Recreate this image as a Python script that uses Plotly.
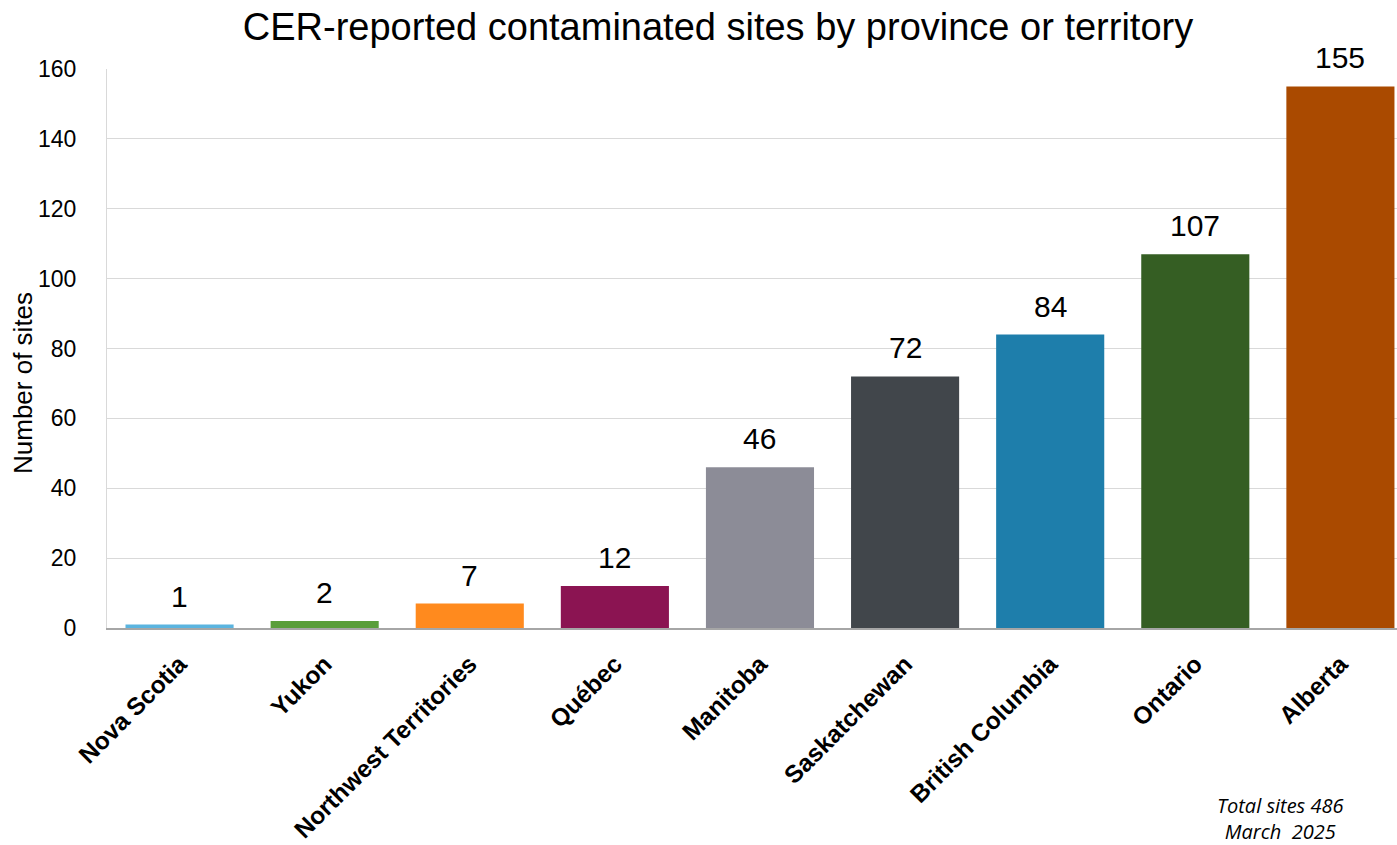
import plotly.graph_objects as go

provinces = ["Nova Scotia", "Yukon", "Northwest Territories", "Québec", "Manitoba",
             "Saskatchewan", "British Columbia", "Ontario", "Alberta"]
sites = [1, 2, 7, 12, 46, 72, 84, 107, 155]
colors = ["#5BB4DF", "#5A9E3A", "#FF8A1E", "#8B1452", "#8C8C97",
          "#41464B", "#1E7EAB", "#355E23", "#AA4A00"]
y_ticks = [0, 20, 40, 60, 80, 100, 120, 140, 160]

FONT = "Arial, Liberation Sans"

W, H = 1397, 845
L, R, T, B = 107, 0, 69, 217

fig = go.Figure(go.Bar(
    x=provinces, y=sites, marker_color=colors, marker_line_width=0,
    cliponaxis=False, width=0.745, hoverinfo="skip",
))

for p, v in zip(provinces, sites):
    fig.add_annotation(x=p, y=v, text=str(v), showarrow=False, xanchor="center",
                       yanchor="bottom", yshift=10,
                       font=dict(family=FONT, size=30, color="#000000"))

pw = W - L - R
ph = H - T - B

fig.update_layout(
    width=W, height=H,
    margin=dict(l=L, r=R, t=T, b=B, autoexpand=False),
    paper_bgcolor="white", plot_bgcolor="white",
    title=dict(text="CER-reported contaminated sites by province or territory",
               x=718 / W, xanchor="center", y=1 - 27 / H, yanchor="middle",
               font=dict(family=FONT, size=38, color="#000000")),
    showlegend=False,
    font=dict(family=FONT, color="#000000"),
)
fig.update_yaxes(range=[0, 160], tickvals=y_ticks, showgrid=True, gridcolor="#D9D9D9",
                 gridwidth=1, showline=True, linecolor="#D9D9D9", linewidth=1,
                 zeroline=False, ticks="", ticklabelstandoff=25, automargin=False,
                 tickfont=dict(family=FONT, size=23, color="#000000"))
fig.update_xaxes(range=[-0.5, 8.39], showline=True, linecolor="#A6A6A6", linewidth=2, ticks="",
                 tickangle=-45, ticklabelstandoff=10, automargin=False,
                 tickfont=dict(family=FONT, size=24.5, color="#000000", weight="bold"))

# y-axis title
fig.add_annotation(text="Number of sites", xref="paper", yref="paper",
                   x=(23 - L) / pw, y=(628 - 383) / ph, xanchor="center", yanchor="middle",
                   textangle=-90, showarrow=False,
                   font=dict(family=FONT, size=26, color="#000000"))

fig.add_annotation(text="<i>Total sites 486</i><br><i>March  2025</i>", xref="paper", yref="paper",
                   x=(1280 - L) / pw, y=-(818 - 628) / ph,
                   xanchor="center", yanchor="middle", showarrow=False,
                   align="center",
                   font=dict(family="Open Sans, Noto Sans", size=20, color="#000000"))

fig.write_html("out.html", config={"displayModeBar": False},
               post_script="document.body.style.margin='0';document.body.style.overflow='hidden';")
